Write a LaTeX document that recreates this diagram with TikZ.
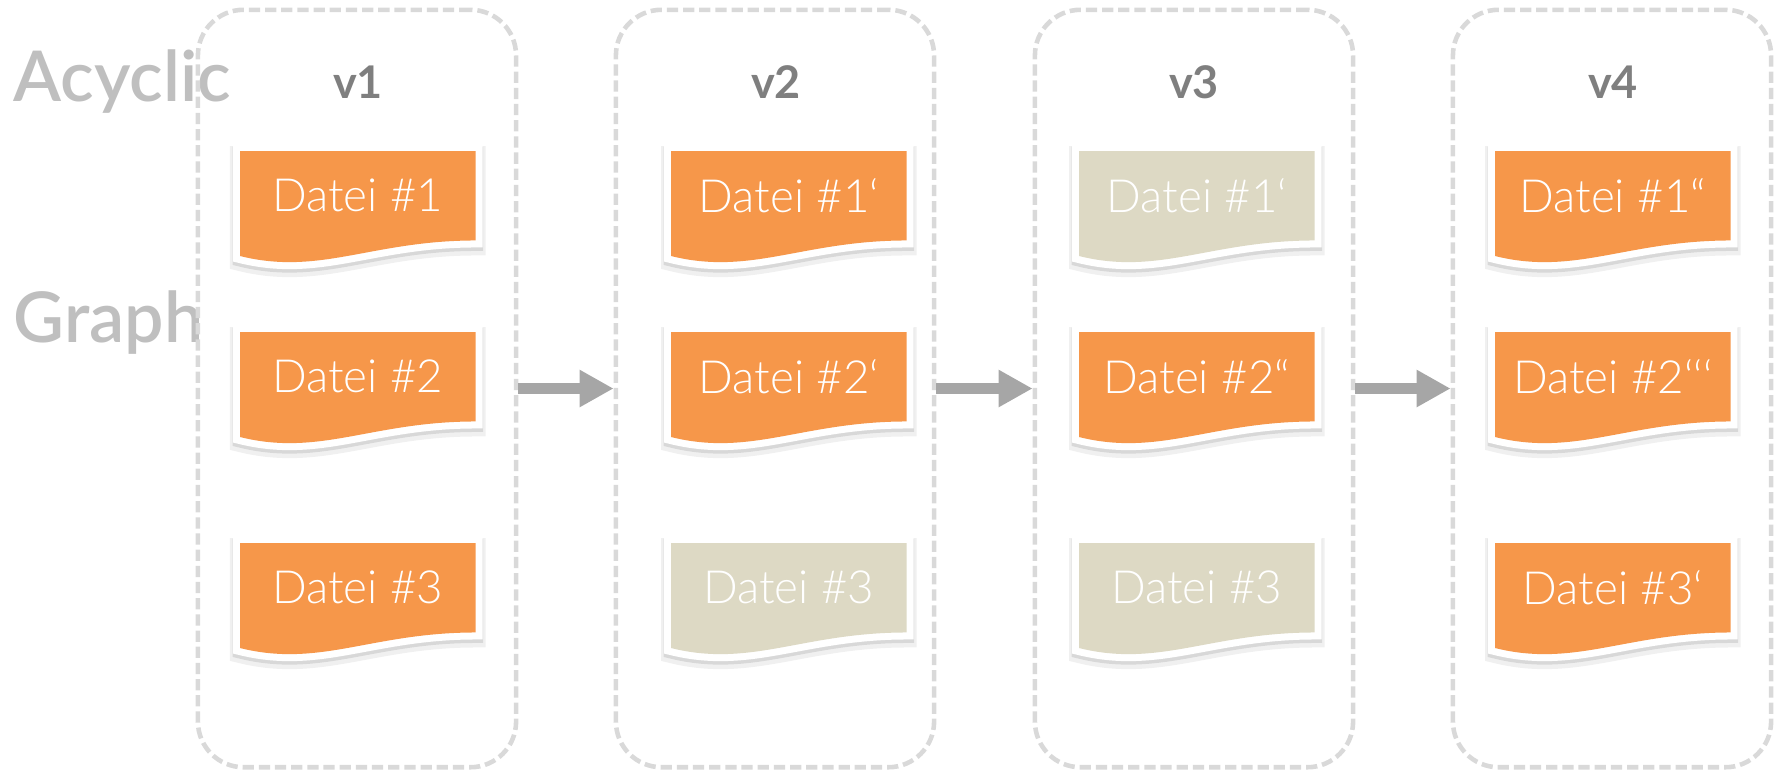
\documentclass[tikz,border=0pt]{standalone}
\usepackage{fontspec}
\setmainfont{Lato}
\newfontfamily\leichtfont{Lato Light}
\newfontfamily\titelfont{Lato Semibold}
\usepackage{tikz}
\usetikzlibrary{arrows.meta,backgrounds}
\definecolor{dateiorange}{HTML}{F6974A}
\definecolor{dateigrau}{HTML}{DDD9C4}
\definecolor{rahmengrau}{HTML}{D9D9D9}
\definecolor{pfeilgrau}{HTML}{A6A6A6}
\definecolor{versiongrau}{HTML}{7F7F7F}
\definecolor{titelgrau}{HTML}{BFBFBF}
\tikzstyle{Box}=[rectangle, rounded corners=13pt, draw=rahmengrau, line width=1.3pt, dash pattern=on 3.2pt off 1.4pt, minimum width=3.18cm, minimum height=7.57cm]
\tikzstyle{Datei}=[rectangle, anchor=north west, inner sep=0, minimum width=2.34cm, minimum height=0.88cm, text=white, font=\leichtfont\fontsize{13}{15}\selectfont]
\tikzstyle{Version}=[anchor=base, text=versiongrau, font=\bfseries\fontsize{12.8}{14}\selectfont]
\tikzstyle{Titel}=[anchor=base west, inner sep=0, text=titelgrau, font=\titelfont\fontsize{19.9}{22}\selectfont]
\tikzstyle{Pfeil}=[draw=pfeilgrau, line width=3.1pt, -{Triangle[length=0.34cm, width=0.35cm]}]
\newcommand\welle[1]{(#1.south east) -- (#1.north east) -- (#1.north west) -- ++(0,105) .. controls +(80,20) and +(-104,0) .. (#1.south east) -- cycle}

\begin{document}
\begin{tikzpicture}[x=0.01cm, y=-0.01cm]
    \useasboundingbox (0,0) rectangle (1777,769);
    \path
    (13,101) node[Titel] (acyclic) {Acyclic}
    (13,342) node[Titel] (graph) {Graph};

    \path (357,388.5) node[Box] (box1) {}
    (775,388.5) node[Box] (box2) {}
    (1194,388.5) node[Box] (box3) {}
    (1612,388.5) node[Box] (box4) {};

    \path (358,98) node[Version] (v1) {v1}
    (776,98) node[Version] (v2) {v2}
    (1194,98) node[Version] (v3) {v3}
    (1613,98) node[Version] (v4) {v4};

    \path (240,151) node[Datei] (d11) {Datei \#1}
    (240,332) node[Datei] (d12) {Datei \#2}
    (240,543) node[Datei] (d13) {Datei \#3}
    (671,151) node[Datei] (d21) {Datei \#1‘}
    (671,332) node[Datei] (d22) {Datei \#2‘}
    (671,543) node[Datei] (d23) {Datei \#3}
    (1079,151) node[Datei] (d31) {Datei \#1‘}
    (1079,332) node[Datei] (d32) {Datei \#2“}
    (1079,543) node[Datei] (d33) {Datei \#3}
    (1495,151) node[Datei] (d41) {Datei \#1“}
    (1495,332) node[Datei] (d42) {Datei \#2‘‘‘}
    (1495,543) node[Datei] (d43) {Datei \#3‘};

    % Blatt mit Schatten und weissem Rand hinter jeden Text
    \begin{scope}[on background layer, line join=round]
    \foreach \n/\c in {d11/dateiorange, d12/dateiorange, d13/dateiorange, d21/dateiorange, d22/dateiorange, d23/dateigrau, d31/dateigrau, d32/dateiorange, d33/dateigrau, d41/dateiorange, d42/dateiorange, d43/dateiorange}{
        \draw[black, opacity=.06, line width=0.2cm, transform canvas={shift={(0,5)}}] \welle{\n};
        \draw[black, opacity=.10, line width=0.15cm, transform canvas={shift={(0,3)}}] \welle{\n};
        \draw[white, line width=0.14cm] \welle{\n};
        \fill[\c] \welle{\n};
    }
    \end{scope}

    \draw[Pfeil] (box1) -- (box2);
    \draw[Pfeil] (box2) -- (box3);
    \draw[Pfeil] (box3) -- (box4);
\end{tikzpicture}
\end{document}
